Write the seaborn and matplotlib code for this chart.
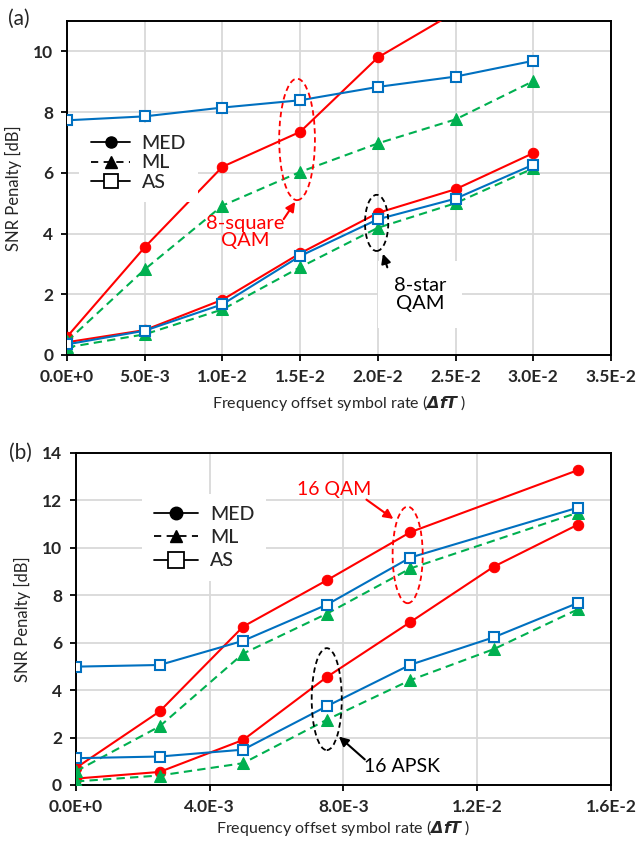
import numpy as np
import pandas as pd
import matplotlib
matplotlib.use('Agg')
import matplotlib.pyplot as plt
import seaborn as sns
from matplotlib.lines import Line2D
from matplotlib.patches import Ellipse

# ---- data ----
# panel (a): 8-square QAM and 8-star QAM
x_a = [0, 0.005, 0.01, 0.015, 0.02, 0.025, 0.03]
sq_med = [0.6, 3.55, 6.2, 7.35, 9.8, 11.3]
sq_ml = [0.45, 2.82, 4.92, 6.03, 6.97, 7.76, 9.02]
sq_as = [7.73, 7.86, 8.15, 8.39, 8.83, 9.17, 9.69]
st_med = [0.42, 0.82, 1.82, 3.35, 4.68, 5.46, 6.65]
st_ml = [0.25, 0.68, 1.5, 2.89, 4.19, 5.0, 6.15]
st_as = [0.35, 0.8, 1.67, 3.26, 4.47, 5.15, 6.27]
xticks_a = [0, 0.005, 0.01, 0.015, 0.02, 0.025, 0.03, 0.035]
xlabels_a = ['0.0E+0', '5.0E-3', '1.0E-2', '1.5E-2', '2.0E-2', '2.5E-2', '3.0E-2', '3.5E-2']

# panel (b): 16 QAM and 16 APSK
x_qam = [0, 0.0025, 0.005, 0.0075, 0.01, 0.015]
qam_med = [0.72, 3.1, 6.68, 8.63, 10.66, 13.27]
qam_ml = [0.58, 2.47, 5.54, 7.22, 9.13, 11.48]
qam_as = [4.99, 5.06, 6.08, 7.6, 9.59, 11.69]
x_apsk = [0, 0.0025, 0.005, 0.0075, 0.01, 0.0125, 0.015]
apsk_med = [0.27, 0.55, 1.9, 4.55, 6.87, 9.21, 10.97]
apsk_ml = [0.15, 0.4, 0.92, 2.75, 4.42, 5.73, 7.4]
apsk_as = [1.13, 1.2, 1.49, 3.32, 5.07, 6.23, 7.67]
xticks_b = [0, 0.004, 0.008, 0.012, 0.016]
xlabels_b = ['0.0E+0', '4.0E-3', '8.0E-3', '1.2E-2', '1.6E-2']

RED = '#ff0000'
GREEN = '#00b050'
BLUE = '#0070c0'

sns.set_style('white')
plt.rcParams['font.family'] = ['Lato', 'DejaVu Sans']
plt.rcParams['mathtext.fontset'] = 'dejavusans'

fig = plt.figure(figsize=(6.39, 8.41), dpi=100)
ax_a = fig.add_axes([0.1049, 0.5779, 0.8513, 0.3971])
ax_b = fig.add_axes([0.1189, 0.0666, 0.8372, 0.3948])


def draw_set(ax, x, med, ml, as_):
    sns.lineplot(x=x[:len(med)], y=med, ax=ax, color=RED, lw=1.5, marker='o',
                 markersize=7.5, markeredgecolor=RED, sort=False, zorder=3)
    sns.lineplot(x=x[:len(ml)], y=ml, ax=ax, color=GREEN, lw=1.5, linestyle=(0, (4, 2.5)),
                 marker='^', markersize=8, markeredgecolor=GREEN, sort=False, zorder=4)
    sns.lineplot(x=x[:len(as_)], y=as_, ax=ax, color=BLUE, lw=1.5, marker='s',
                 markersize=7, markerfacecolor='white', markeredgecolor=BLUE,
                 markeredgewidth=1.5, sort=False, zorder=5)


def style_axes(ax, xticks, xlabels, ylim, yticks, xpad):
    ax.set_xlim(xticks[0], xticks[-1])
    ax.set_ylim(*ylim)
    ax.set_xticks(xticks)
    ax.set_xticklabels(xlabels)
    ax.set_yticks(yticks)
    ax.grid(True, color='#d9d9d9', lw=1.3)
    ax.set_axisbelow(True)
    for s in ax.spines.values():
        s.set_color('black')
        s.set_linewidth(1.4)
    ax.tick_params(axis='both', direction='out', length=4, width=1.3, color='black',
                   labelsize=12.5, pad=6, bottom=True, left=True)
    for t in ax.get_xticklabels() + ax.get_yticklabels():
        t.set_fontweight('bold')
    ax.set_ylabel('SNR Penalty [dB]', fontsize=12, labelpad=8)
    ax.set_xlabel(r'Frequency offset symbol rate ($\mathbfit{\Delta fT}$ )', fontsize=11.5, labelpad=xpad)


def add_legend(ax, anchor, msize, spacing, hlen):
    handles = [
        Line2D([], [], color='black', lw=1.3, marker='o', markersize=msize),
        Line2D([], [], color='black', lw=1.3, linestyle=(0, (4, 3)), marker='^', markersize=msize),
        Line2D([], [], color='black', lw=1.3, marker='s', markersize=msize + 2,
               markerfacecolor='white', markeredgewidth=1.3),
    ]
    leg = ax.legend(handles, ['MED', 'ML', 'AS'], loc='center left', bbox_to_anchor=anchor,
                    prop={'size': 14, 'weight': 'medium'}, frameon=True, facecolor='white',
                    edgecolor='none', framealpha=1, labelspacing=spacing, handlelength=hlen,
                    handletextpad=0.6, borderpad=0.6, fancybox=False)
    leg.set_zorder(6)


# ---- panel (a) ----
draw_set(ax_a, x_a, sq_med, sq_ml, sq_as)
draw_set(ax_a, x_a, st_med, st_ml, st_as)
style_axes(ax_a, xticks_a, xlabels_a, (0, 11), [0, 2, 4, 6, 8, 10], 6)
add_legend(ax_a, (0.005, 0.575), 8, 0.12, 2.0)

ax_a.add_patch(Ellipse((0.0148, 7.1), 0.0023, 4.0, fill=False, ec=RED, ls=(0, (3, 2)), lw=1.3, zorder=6))
ax_a.annotate('', xy=(0.01478, 5.12), xytext=(0.01384, 4.4),
              arrowprops=dict(arrowstyle='-|>', color=RED, lw=1.5, mutation_scale=14), zorder=6)
ax_a.text(0.01145, 4.05, '8-square\nQAM', color=RED, fontsize=14.5, ha='center', va='center',
          linespacing=1.05, zorder=6)

ax_a.add_patch(Ellipse((0.01992, 4.35), 0.0015, 1.85, fill=False, ec='black', ls=(0, (3, 2)), lw=1.3, zorder=6))
ax_a.annotate('', xy=(0.02027, 3.42), xytext=(0.02066, 2.8),
              arrowprops=dict(arrowstyle='-|>', color='black', lw=1.5, mutation_scale=14), zorder=6)
ax_a.text(0.0227, 2.0, '8-star\nQAM', color='black', fontsize=14.5, ha='center', va='center',
          linespacing=1.05, zorder=5,
          bbox=dict(facecolor='white', edgecolor='none', boxstyle='square,pad=0.8'))

# ---- panel (b) ----
draw_set(ax_b, x_qam, qam_med, qam_ml, qam_as)
draw_set(ax_b, x_apsk, apsk_med, apsk_ml, apsk_as)
style_axes(ax_b, xticks_b, xlabels_b, (0, 14), [0, 2, 4, 6, 8, 10, 12, 14], 2)
add_legend(ax_b, (0.105, 0.745), 9, 0.32, 2.3)

ax_b.add_patch(Ellipse((0.00992, 9.7), 0.0009, 4.07, fill=False, ec=RED, ls=(0, (3, 2)), lw=1.3, zorder=6))
ax_b.annotate('', xy=(0.00956, 11.15), xytext=(0.00862, 12.1),
              arrowprops=dict(arrowstyle='-|>', color=RED, lw=1.5, mutation_scale=14), zorder=6)
ax_b.text(0.00772, 12.45, '16 QAM', color=RED, fontsize=14, ha='center', va='center', zorder=6)

ax_b.add_patch(Ellipse((0.0075, 3.62), 0.0009, 4.3, fill=False, ec='black', ls=(0, (3, 2)), lw=1.3, zorder=6))
ax_b.annotate('', xy=(0.0078, 2.12), xytext=(0.0087, 1.0),
              arrowprops=dict(arrowstyle='-|>', color='black', lw=1.5, mutation_scale=14), zorder=6)
ax_b.text(0.00975, 0.77, '16 APSK', color='black', fontsize=14, ha='center', va='center', zorder=6)

fig.text(0.012, 0.977, '(a)', fontsize=15, ha='left', va='center')
fig.text(0.014, 0.462, '(b)', fontsize=15, ha='left', va='center')

fig.savefig('out.png', dpi=100)
